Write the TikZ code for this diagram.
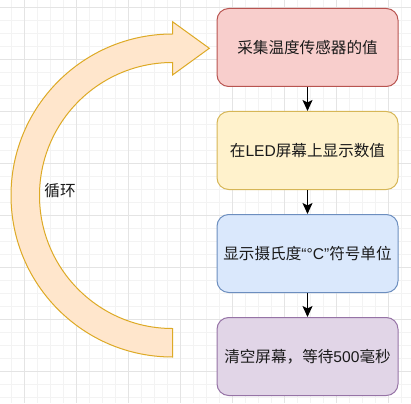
\documentclass[tikz,border=0pt]{standalone}
\usepackage{fontspec}
\setmainfont{Liberation Sans}
\newfontfamily\cjk{Noto Sans CJK SC}
\newfontfamily\lat{Liberation Sans}
\usetikzlibrary{arrows.meta}
\definecolor{loopfill}{HTML}{FFE6CC}
\definecolor{loopdraw}{HTML}{D79B00}
\definecolor{redfill}{HTML}{F8CECC}
\definecolor{reddraw}{HTML}{B85450}
\definecolor{yelfill}{HTML}{FFF2CC}
\definecolor{yeldraw}{HTML}{D6B656}
\definecolor{bluefill}{HTML}{DAE8FC}
\definecolor{bluedraw}{HTML}{6C8EBF}
\definecolor{purfill}{HTML}{E1D5E7}
\definecolor{purdraw}{HTML}{9673A6}
\definecolor{gridminor}{HTML}{F3F3F3}
\definecolor{gridmajor}{HTML}{E4E4E4}
\definecolor{txt}{HTML}{1A1A1A}
\tikzset{
  minorline/.style={draw=gridminor, line width=1pt},
  majorline/.style={draw=gridmajor, line width=1pt},
  stepbox/.style={rectangle, rounded corners=11.7pt, minimum width=181pt, minimum height=78pt,
    inner sep=0pt, line width=1pt, text=txt, font=\fontsize{15.6pt}{18pt}\selectfont\cjk},
  conn/.style={draw=black, line width=1.3pt, -{Stealth[length=11pt,width=10pt,inset=2.5pt]}},
  looparrow/.style={fill=loopfill, draw=loopdraw!85, line width=1pt, line join=miter},
  lbl/.style={inner sep=0pt, text=txt, font=\fontsize{15.6pt}{18pt}\selectfont\cjk}
}
\begin{document}
\begin{tikzpicture}[x=1pt,y=-1pt]
\fill[white] (0,0) rectangle (411,403);
\useasboundingbox (0,0) rectangle (411,403);
% grid
\foreach \x in {-2,11,...,410} \draw[minorline] (\x,0) -- (\x,403);
\foreach \y in {-5.7,7.3,...,403} \draw[minorline] (0,\y) -- (411,\y);
\foreach \x in {24,76,...,410} \draw[majorline] (\x,0) -- (\x,403);
\foreach \y in {7.3,59.3,...,403} \draw[majorline] (0,\y) -- (411,\y);
% loop arrow
\draw[looparrow] (172.5,34) arc[start angle=270, end angle=90, radius=161.5]
  -- (172.5,328.5) arc[start angle=90, end angle=270, radius=133]
  -- (172.5,75) -- (209.3,48.3) -- (172.5,21.7) -- cycle;
\node[lbl] (loop) at (60,191) {循环};
% boxes
\node[stepbox, fill=redfill, draw=reddraw] (b1) at (307.5,47.5) {采集温度传感器的值};
\node[stepbox, fill=yelfill, draw=yeldraw] (b2) at (307.5,150.5) {在{\lat LED}屏幕上显示数值};
\node[stepbox, fill=bluefill, draw=bluedraw] (b3) at (307.5,253.5) {显示摄氏度{\lat “°C”}符号单位};
\node[stepbox, fill=purfill, draw=purdraw] (b4) at (307.5,356.5) {清空屏幕，等待{\lat 500}毫秒};
% connectors
\draw[conn] (b1) -- (b2);
\draw[conn] (b2) -- (b3);
\draw[conn] (b3) -- (b4);
\end{tikzpicture}
\end{document}
